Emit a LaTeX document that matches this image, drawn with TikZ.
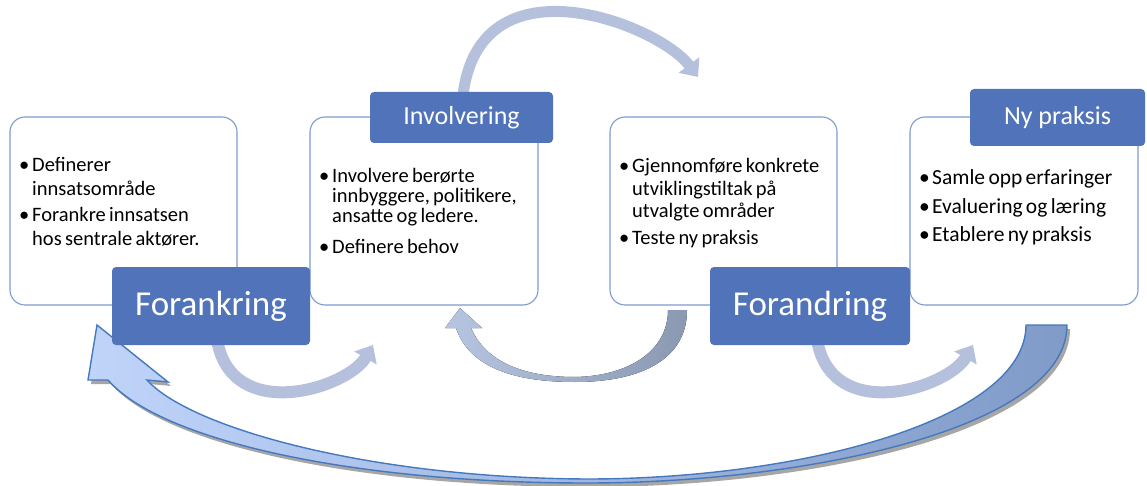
\documentclass[tikz,border=0pt]{standalone}
\usepackage{fontspec}
\setmainfont{Carlito}
\usetikzlibrary{arrows.meta}
\definecolor{lblue}{RGB}{80,115,185}
\definecolor{bordc}{RGB}{125,155,210}
\definecolor{arrc}{RGB}{180,192,220}
\definecolor{bigL}{RGB}{192,212,250}
\definecolor{bigR}{RGB}{128,155,200}
\definecolor{bigD}{RGB}{70,120,190}
\definecolor{atwoL}{RGB}{182,197,225}
\definecolor{atwoM}{RGB}{240,242,248}
\definecolor{atwoR}{RGB}{138,152,178}
\newcommand{\bitem}[1]{\par\noindent\hspace*{-13pt}\makebox[13pt][l]{\textbullet}#1\par}
\newcommand{\bsetup}{\leftskip=13pt\rightskip=0pt plus 1fil\parindent=0pt\parskip=0pt}
\begin{document}
\begin{tikzpicture}[x=1pt,y=-1pt,
  box/.style={draw=bordc, line width=1.1pt, fill=white, rounded corners=15pt, inner sep=0pt},
  lbl/.style={fill=lblue, text=white, rounded corners=4pt, inner sep=0pt},
  btext/.style={anchor=north west, inner sep=0pt, text width=230pt},
  flow/.style={draw=arrc, line width=12pt, -{Triangle[width=25pt,length=15pt]}}]
\useasboundingbox (0,0) rectangle (1147,486);

% big return arrow (shadow + shaded body)
\fill[black, opacity=0.35, shift={(3,4)}]
  (1067,325) .. controls (1067,430) and (800,483) .. (587,483)
  .. controls (350,483) and (160,440) .. (108,380) -- (88,380) -- (97,325) -- (168,382) -- (147,380)
  .. controls (190,428) and (370,478) .. (587,479)
  .. controls (800,479) and (1026,420) .. (1026,325) -- cycle;
\draw[draw=bigD, line width=1.4pt, left color=bigL, right color=bigR, line join=miter]
  (1067,325) .. controls (1067,430) and (800,483) .. (587,483)
  .. controls (350,483) and (160,440) .. (108,380) -- (88,380) -- (97,325) -- (168,382) -- (147,380)
  .. controls (190,428) and (370,478) .. (587,479)
  .. controls (800,479) and (1026,420) .. (1026,325) -- cycle;

% arrow under boxes 2 and 3 (shaded ribbon)
\fill[left color=atwoL, middle color=atwoM, right color=atwoR]
  (456,328) .. controls (470,370) and (520,382) .. (575,382)
  .. controls (640,382) and (687,360) .. (687,310) -- (668,310)
  .. controls (668,350) and (630,376) .. (575,377)
  .. controls (520,377) and (485,360) .. (471,328)
  -- (482,328) -- (460,308) -- (445,328) -- cycle;

% flow arrows
\coordinate (a1s) at (217,340);
\coordinate (a1e) at (373,345);
\coordinate (a3s) at (817,340);
\coordinate (a3e) at (973,345);
\coordinate (tas) at (463,95);
\coordinate (tae) at (698,77);
\draw[flow] (a1s) .. controls (232,425) and (348,388) .. (a1e);
\draw[flow] (a3s) .. controls (832,425) and (948,388) .. (a3e);
\draw[flow, line width=11pt] (tas) .. controls (480,-45) and (658,24) .. (tae);

% white boxes
\node[box, minimum width=227pt, minimum height=188pt] (b1) at (123.5,211) {};
\node[box, minimum width=228pt, minimum height=188pt] (b2) at (424,211) {};
\node[box, minimum width=227pt, minimum height=188pt] (b3) at (723.5,211) {};
\node[box, minimum width=228pt, minimum height=188pt] (b4) at (1024,211) {};

% bullet texts
\node[btext] (t1) at (19,147) {\bsetup\fontsize{20.5}{24}\selectfont
  \bitem{Definerer\newline innsatsområde}\vspace{2pt}
  \bitem{Forankre innsatsen\newline hos sentrale aktører.}};
\node[btext] (t2) at (319,162) {\bsetup\fontsize{20.5}{20}\selectfont
  \bitem{Involvere berørte\newline innbyggere, politikere,\newline ansatte og ledere.}\vspace{11pt}
  \bitem{Definere behov}};
\node[btext] (t3) at (619,150) {\bsetup\fontsize{20.5}{22.5}\selectfont
  \bitem{Gjennomføre konkrete\newline utviklingstiltak på\newline utvalgte områder}\vspace{4.5pt}
  \bitem{Teste ny praksis}};
\node[btext] (t4) at (919,156) {\bsetup\fontsize{21.5}{28.5}\selectfont
  \bitem{Samle opp erfaringer}
  \bitem{Evaluering og læring}
  \bitem{Etablere ny praksis}};

% label boxes
\node[lbl, minimum width=198pt, minimum height=78pt, font=\fontsize{35}{40}\selectfont] (l1) at (211,306) {Forankring};
\node[lbl, minimum width=183pt, minimum height=51pt, font=\fontsize{26}{30}\selectfont] (l2) at (461.5,117.5) {Involvering};
\node[lbl, minimum width=200pt, minimum height=78pt, font=\fontsize{35}{40}\selectfont] (l3) at (810,306) {Forandring};
\node[lbl, minimum width=175pt, minimum height=57pt, font=\fontsize{26}{30}\selectfont] (l4) at (1057.5,117.5) {Ny praksis};
\end{tikzpicture}
\end{document}
